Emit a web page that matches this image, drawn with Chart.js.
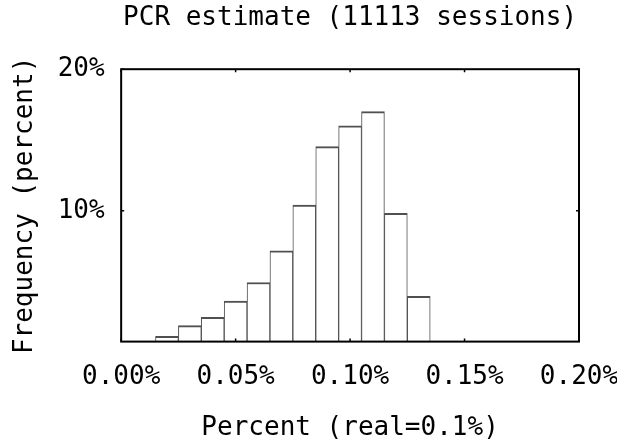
<!DOCTYPE html>
<html>
<head>
<meta charset="utf-8">
<script src="https://cdn.jsdelivr.net/npm/chart.js@4"></script>
<style>
  html, body { margin: 0; padding: 0; background: #fff; }
  #wrap { width: 617px; height: 444px; }
</style>
</head>
<body>
<div id="wrap"><canvas id="pcr"></canvas></div>
<script>
// histogram of PCR estimates, bin centres in percent
const binCenters = [0.02, 0.03, 0.04, 0.05, 0.06, 0.07, 0.08, 0.09, 0.10, 0.11, 0.12, 0.13];
const frequency = [1.14, 1.9, 2.48, 3.63, 4.94, 7.17, 10.4, 14.53, 16.0, 17.0, 9.82, 3.97];
const xTicks = [0.00, 0.05, 0.10, 0.15, 0.20];
const yTicks = [10, 20];

const FONT = { family: '"DejaVu Sans Mono", "Liberation Mono", monospace', size: 26 };

// gnuplot-style frame with small inward ticks
const framePlugin = {
  id: 'frame',
  afterDatasetsDraw(chart) {
    const { ctx, chartArea: a, scales } = chart;
    ctx.save();
    ctx.strokeStyle = '#000';
    ctx.lineWidth = 1.5;
    const len = 3;
    ctx.beginPath();
    xTicks.forEach((v) => {
      const px = scales.x.getPixelForValue(v);
      ctx.moveTo(px, a.bottom); ctx.lineTo(px, a.bottom - len);
      ctx.moveTo(px, a.top); ctx.lineTo(px, a.top + len);
    });
    yTicks.forEach((v) => {
      const py = scales.y.getPixelForValue(v);
      ctx.moveTo(a.left, py); ctx.lineTo(a.left + len, py);
      ctx.moveTo(a.right, py); ctx.lineTo(a.right - len, py);
    });
    ctx.stroke();
    ctx.lineWidth = 2;
    ctx.strokeRect(a.left, a.top, a.right - a.left, a.bottom - a.top);
    ctx.restore();
  },
};

new Chart(document.getElementById('pcr'), {
  type: 'bar',
  data: {
    datasets: [{
      data: binCenters.map((x, i) => ({ x, y: frequency[i] })),
      backgroundColor: '#fff',
      borderColor: '#505050',
      borderWidth: { top: 2, left: 1, right: 1, bottom: 0 },
      barPercentage: 1,
      categoryPercentage: 1,
    }],
  },
  options: {
    responsive: true, maintainAspectRatio: false, animation: false,
    layout: { padding: { left: 10, right: 0, top: 0, bottom: 0 } },
    plugins: {
      legend: { display: false },
      tooltip: { enabled: false },
      title: {
        display: true, text: 'PCR estimate (11113 sessions)', color: '#000',
        font: { ...FONT, weight: 'normal' }, fullSize: false,
        padding: { top: 3, bottom: 35 },
      },
    },
    scales: {
      x: {
        type: 'linear', min: 0, max: 0.2, offset: false,
        afterBuildTicks: (s) => { s.ticks = xTicks.map((value) => ({ value })); },
        afterFit: (s) => { s.paddingRight = 38; },
        ticks: { color: '#000', font: FONT, padding: 20, maxRotation: 0, callback: (v) => v.toFixed(2) + '%' },
        grid: { display: false, drawTicks: false },
        border: { display: false },
        title: { display: true, text: 'Percent (real=0.1%)', color: '#000', font: FONT, padding: { top: 0, bottom: 0 } },
      },
      y: {
        min: 0.77, max: 20,
        afterBuildTicks: (s) => { s.ticks = yTicks.map((value) => ({ value })); },
        ticks: { color: '#000', font: FONT, padding: 16.5, callback: (v) => v + '%' },
        grid: { display: false, drawTicks: false },
        border: { display: false },
        title: { display: true, text: 'Frequency (percent)', color: '#000', font: FONT, padding: { top: 0, bottom: 0 } },
      },
    },
  },
  plugins: [framePlugin],
});
</script>
</body>
</html>
